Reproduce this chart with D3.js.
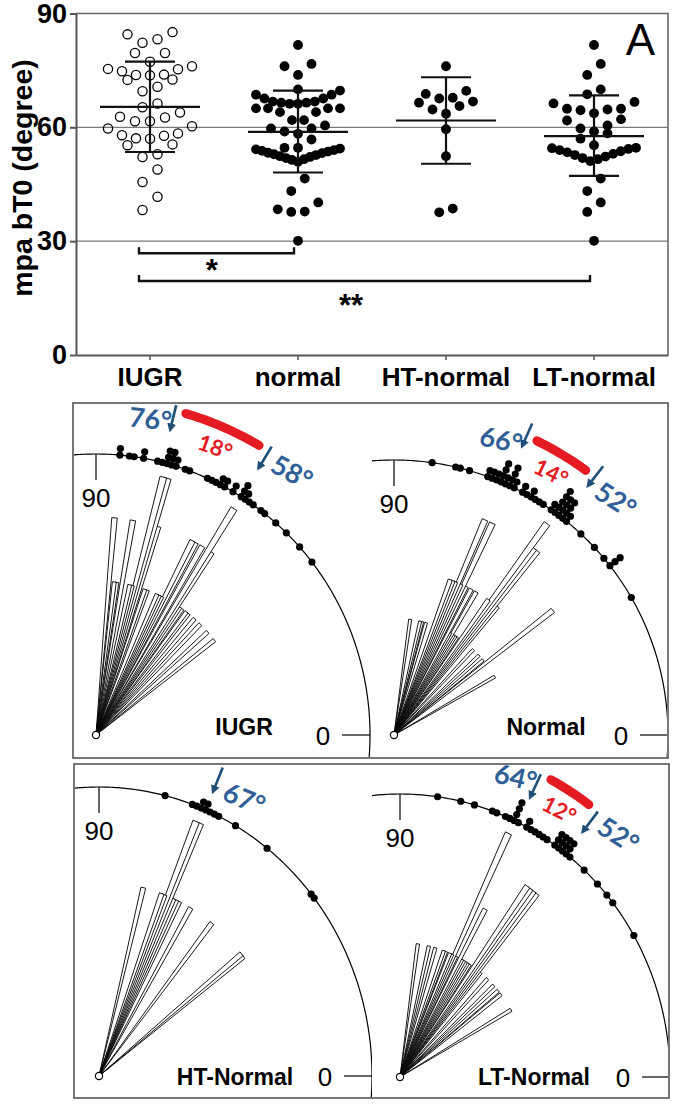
<!DOCTYPE html>
<html><head><meta charset="utf-8">
<script src="https://d3js.org/d3.v7.min.js"></script>
<style>html,body{margin:0;padding:0;background:#fff}svg{display:block}</style>
</head><body>
<script>
// ---------------- DATA ----------------
const groups = ["IUGR", "normal", "HT-normal", "LT-normal"];
const iugrValues = [85.1,84.5,83.2,82.3,79.6,79.6,77.3,76.1,74.8,75.4,75.3,73.8,73.7,73.9,72.6,72.5,70.7,69.5,66.3,65.3,63.9,62.6,62.8,61.6,61.6,60.3,59.7,57.9,57.1,57.0,57.8,58.4,55.3,55.5,52.2,52.9,48.9,45.6,41.7,38.2];
const normalValues = [81.7,76.7,76.1,73.8,70.0,69.7,68.6,68.6,67.6,67.6,66.8,66.5,66.5,66.8,66.2,66.2,65.0,65.0,65.0,65.0,64.0,64.0,61.9,61.9,60.5,59.7,59.7,58.9,58.3,56.8,54.6,54.4,54.0,53.6,53.2,52.7,52.2,51.6,50.9,51.4,51.9,52.4,52.9,53.3,53.8,54.2,54.6,46.5,43.2,40.2,37.8,37.7,38.4,30.1];
const htNormalValues = [76.1,69.6,67.8,68.8,66.8,67.6,65.6,66.5,64.7,63.6,59.5,52.4,37.6,38.6];
const ltNormalValues = [81.7,76.7,73.8,70.0,68.7,66.3,66.7,64.9,64.5,64.7,64.9,63.7,62.1,61.8,60.5,59.7,58.9,58.4,57.0,55.3,54.6,54.5,54.0,53.4,52.7,51.9,51.1,51.6,52.3,53.0,53.7,54.3,46.5,43.2,40.2,37.7,30.1];
const meanValues = [65.4, 58.8, 61.8, 57.7];
const sdUpper = [77.3, 69.7, 73.2, 68.4];
const sdLower = [53.5, 48.1, 50.4, 47.2];
const yTickValues = [0, 30, 60, 90];
const bracketFrom = ["IUGR", "IUGR"];
const bracketTo = ["normal", "LT-normal"];
const bracketLevel = [26.8, 19.5];
const bracketLabel = ["*", "**"];
const roseLabels = ["IUGR", "Normal", "HT-Normal", "LT-Normal"];
const arrowAngles = [[76, 58], [66, 52], [67], [64, 52]];
const panelLetters = ["A", "B", "C"];
const groupValues = [iugrValues, normalValues, htNormalValues, ltNormalValues];

// ---------------- SETUP ----------------
const W = 675, H = 1104;
const ARIAL = "'Liberation Sans', Arial, Helvetica, sans-serif";
const CAL = "Lato, 'Open Sans', 'Noto Sans', sans-serif";
const svg = d3.select("body").append("svg").attr("width", W).attr("height", H);
svg.append("rect").attr("width", W).attr("height", H).attr("fill", "#fff");

// ---------------- PANEL A ----------------
const A = {left: 76, right: 668, top: 13.5, bottom: 355};
const y = d3.scaleLinear().domain([0, 90]).range([A.bottom, A.top]);
const x = d3.scaleBand().domain(groups).range([A.left, A.right]).padding(0);
const xc = g => x(g) + x.bandwidth() / 2;
const gA = svg.append("g");

gA.selectAll("line.grid").data(yTickValues.filter(v => v > 0 && v < 90)).join("line")
  .attr("class", "grid")
  .attr("x1", A.left).attr("x2", A.right).attr("y1", d => y(d)).attr("y2", d => y(d))
  .attr("stroke", "#7a7a7a").attr("stroke-width", 1.3);
gA.append("path").attr("d", `M${A.left},${y(90)}H${A.right}V${A.bottom}`)
  .attr("fill", "none").attr("stroke", "#6a6a6a").attr("stroke-width", 1.6);

const gy = gA.append("g").attr("transform", `translate(${A.left},0)`)
  .call(d3.axisLeft(y).tickValues(yTickValues).tickSize(6).tickSizeOuter(0).tickPadding(3));
gy.select(".domain").attr("stroke", "#555").attr("stroke-width", 2);
gy.selectAll(".tick line").attr("stroke", "#555").attr("stroke-width", 2);
gy.selectAll(".tick text").attr("font-family", ARIAL).attr("font-weight", "bold")
  .attr("font-size", 27).attr("fill", "#000");

const gx = gA.append("g").attr("transform", `translate(0,${A.bottom})`)
  .call(d3.axisBottom(x).tickSize(5).tickSizeOuter(0).tickPadding(8));
gx.select(".domain").attr("stroke", "#555").attr("stroke-width", 2);
gx.selectAll(".tick line").attr("stroke", "#555").attr("stroke-width", 1.5);
gx.selectAll(".tick text").attr("font-family", ARIAL).attr("font-weight", "bold")
  .attr("font-size", 26).attr("fill", "#000");

gA.append("text").attr("transform", `translate(22,178) rotate(-90)`)
  .attr("text-anchor", "middle").attr("dominant-baseline", "central")
  .attr("font-family", ARIAL).attr("font-weight", "bold").attr("font-size", 28.5)
  .text("mpa bT0 (degree)");

// column-scatter layout: rows of similar values spread horizontally, lowest in centre
function scatterRows(vals, rowH, cap, maxW) {
  const pts = vals.map(v => ({v, py: y(v)})).sort((a, b) => a.v - b.v);
  const rows = [];
  pts.forEach(p => {
    const r = rows[rows.length - 1];
    if (r && r[0].py - p.py <= rowH) r.push(p); else rows.push([p]);
  });
  rows.forEach(r => {
    const n = r.length;
    const s = n > 1 ? Math.min(cap, maxW / (n - 1)) : 0;
    r.forEach((p, j) => {
      let slot;
      if (n % 2 === 1) slot = j === 0 ? 0 : (j % 2 === 1 ? -1 : 1) * Math.ceil(j / 2);
      else slot = (j % 2 === 0 ? -1 : 1) * (Math.floor(j / 2) + 0.5);
      p.dx = slot * s;
    });
  });
  return pts;
}

groups.forEach((g, i) => {
  const open = i === 0;
  const pts = scatterRows(groupValues[i], 13.5, open ? 15 : 13.5, 84);
  gA.append("g").selectAll("circle").data(pts).join("circle")
    .attr("cx", d => xc(g) + d.dx).attr("cy", d => d.py)
    .attr("r", open ? 4.6 : 4.9)
    .attr("fill", open ? "none" : "#000")
    .attr("stroke", "#000").attr("stroke-width", open ? 1.3 : 0);
  const eb = gA.append("g").attr("stroke", "#111").attr("stroke-width", 2.2).attr("fill", "none");
  eb.append("line").attr("x1", xc(g)).attr("x2", xc(g)).attr("y1", y(sdLower[i])).attr("y2", y(sdUpper[i]));
  eb.append("line").attr("x1", xc(g) - 50).attr("x2", xc(g) + 50).attr("y1", y(meanValues[i])).attr("y2", y(meanValues[i]));
  [sdLower[i], sdUpper[i]].forEach(v => eb.append("line").attr("x1", xc(g) - 25).attr("x2", xc(g) + 25).attr("y1", y(v)).attr("y2", y(v)));
});

bracketFrom.forEach((f, i) => {
  const x1 = xc(f) - 11, x2 = xc(bracketTo[i]) - 4, yl = y(bracketLevel[i]);
  gA.append("path").attr("d", `M${x1},${yl - 6}V${yl}H${x2}V${yl - 6}`)
    .attr("fill", "none").attr("stroke", "#111").attr("stroke-width", 2.4);
  gA.append("text").attr("x", x1 + (x2 - x1) * 0.47).attr("y", yl + (i === 0 ? 28 : 35))
    .attr("text-anchor", "middle").attr("font-family", ARIAL).attr("font-weight", "bold")
    .attr("font-size", 31).text(bracketLabel[i]);
});
gA.append("text").attr("x", 655).attr("y", 55).attr("text-anchor", "end")
  .attr("font-family", ARIAL).attr("font-size", 44).text(panelLetters[0]);

// ---------------- PANELS B & C ----------------
const boxes = [{x: 73, y: 403, w: 595, h: 355}, {x: 74, y: 764, w: 595, h: 334}];
boxes.forEach((b, i) => {
  svg.append("rect").attr("x", b.x).attr("y", b.y).attr("width", b.w).attr("height", b.h)
    .attr("fill", "none").attr("stroke", "#555").attr("stroke-width", 1.6);
  svg.append("text").attr("x", 654).attr("y", i === 0 ? 448 : 805).attr("text-anchor", "end")
    .attr("font-family", ARIAL).attr("font-size", 42).text(panelLetters[i + 1]);
});

const defs = svg.append("defs");
defs.append("marker").attr("id", "ah").attr("viewBox", "0 0 10 10").attr("refX", 1).attr("refY", 5)
  .attr("markerWidth", 9).attr("markerHeight", 9).attr("markerUnits", "userSpaceOnUse").attr("orient", "auto")
  .append("path").attr("d", "M0,0L10,5L0,10Z").attr("fill", "#1f4e79");

const roseLayout = [
  {cx: 96, cy: 735, rx: 274, ry: 281, clip: [74, 404, 298, 353], tip: 1.11, lab: [148, 0]},
  {cx: 394, cy: 735, rx: 274, ry: 275, clip: [372, 404, 295, 353], tip: 1.14, lab: [152, 0]},
  {cx: 99, cy: 1076, rx: 273, ry: 289, clip: [75, 765, 297, 332], tip: 1.06, lab: [136, 9]},
  {cx: 400, cy: 1077, rx: 270, ry: 283, clip: [372, 765, 296, 332], tip: 1.09, lab: [134, 8]}
];
const ang = d3.scaleLinear().domain([0, 180]).range([0, Math.PI]);
const line = d3.line();

roseLabels.forEach((lab, i) => {
  const L = roseLayout[i];
  const vals = groupValues[i];
  const pt = (a, r) => [L.cx + L.rx * r * Math.cos(ang(a)), L.cy - L.ry * r * Math.sin(ang(a))];
  const counts = d3.rollups(vals, v => v.length, d => Math.round(d)).sort((a, b) => a[0] - b[0]);
  const len = d3.scaleSqrt().domain([0, d3.max(counts, d => d[1])]).range([0, 0.95]);

  defs.append("clipPath").attr("id", "cp" + i).append("rect")
    .attr("x", L.clip[0]).attr("y", L.clip[1]).attr("width", L.clip[2]).attr("height", L.clip[3]);
  const g = svg.append("g").attr("clip-path", `url(#cp${i})`);
  g.append("rect").attr("x", L.clip[0]).attr("y", L.clip[1]).attr("width", L.clip[2]).attr("height", L.clip[3]).attr("fill", "#fff");

  // rays
  g.append("g").selectAll("path").data(counts).join("path")
    .attr("d", d => line([[L.cx, L.cy], pt(d[0] - 0.75, len(d[1])), pt(d[0] + 0.75, len(d[1]))]) + "Z")
    .attr("fill", "#fff").attr("stroke", "#000").attr("stroke-width", 0.9).attr("stroke-linejoin", "miter");

  // circle arc
  g.append("path").attr("d", line(d3.range(-6, 96.01, 0.5).map(a => pt(a, 1))))
    .attr("fill", "none").attr("stroke", "#000").attr("stroke-width", 1.2);
  const top = pt(90, 1), right = pt(0, 1);
  g.append("line").attr("x1", top[0]).attr("x2", top[0]).attr("y1", top[1]).attr("y2", top[1] + 26)
    .attr("stroke", "#000").attr("stroke-width", 1.2);
  g.append("line").attr("x1", right[0] - 28).attr("x2", right[0]).attr("y1", right[1]).attr("y2", right[1])
    .attr("stroke", "#000").attr("stroke-width", 1.2);

  // stacked dots on the circle
  const dots = [];
  counts.forEach(([a, n]) => { for (let j = 0; j < n; j++) dots.push(pt(a, 1 + j * 6.5 / L.ry)); });
  g.append("g").selectAll("circle").data(dots).join("circle")
    .attr("cx", d => d[0]).attr("cy", d => d[1]).attr("r", 3.6).attr("fill", "#000");

  g.append("circle").attr("cx", L.cx).attr("cy", L.cy).attr("r", 3.6)
    .attr("fill", "#fff").attr("stroke", "#000").attr("stroke-width", 1.2);

  // axis labels
  g.append("text").attr("x", top[0]).attr("y", top[1] + 53).attr("text-anchor", "middle")
    .attr("font-family", ARIAL).attr("font-size", 26).text("90");
  g.append("text").attr("x", right[0] - 47).attr("y", L.cy + 10).attr("text-anchor", "middle")
    .attr("font-family", ARIAL).attr("font-size", 26).text("0");
  g.append("text").attr("x", L.cx + L.lab[0]).attr("y", L.cy + L.lab[1]).attr("text-anchor", "middle")
    .attr("font-family", ARIAL).attr("font-weight", "bold").attr("font-size", 23).text(lab);

  // annotations
  const arr = arrowAngles[i];
  arr.forEach((a, k) => {
    const p0 = pt(a, L.tip + 0.1), p1 = pt(a, L.tip + 8 / L.ry);
    g.append("line").attr("x1", p0[0]).attr("y1", p0[1]).attr("x2", p1[0]).attr("y2", p1[1])
      .attr("stroke", "#1f4e79").attr("stroke-width", 2.6).attr("marker-end", "url(#ah)");
    const leftSide = arr.length === 2 && k === 0;
    const la = leftSide ? a + 4 : a - (arr.length === 1 ? 6 : 5.4);
    const lr = leftSide ? 1.145 : (arr.length === 1 ? 1.10 : 1.18);
    const lp = pt(la, lr);
    g.append("text").attr("transform", `translate(${lp[0]},${lp[1]}) rotate(${(90 - la) * (leftSide ? 0.6 : 0.75)})`)
      .attr("text-anchor", "middle").attr("dominant-baseline", "central")
      .attr("font-family", CAL).attr("font-weight", "bold").attr("font-size", 27)
      .attr("fill", "#2f5f96").text(a + "°");
  });
  if (arr.length === 2) {
    const [a0, a1] = arr;
    g.append("path").attr("d", line(d3.range(a1 + 2, a0 - 2 + 0.01, 0.5).map(a => pt(a, 1.19))))
      .attr("fill", "none").attr("stroke", "#e51b24").attr("stroke-width", 9).attr("stroke-linecap", "round");
    const mid = (a0 + a1) / 2, mp = pt(mid, 1.115);
    g.append("text").attr("transform", `translate(${mp[0]},${mp[1]}) rotate(${(90 - mid) * 0.85})`)
      .attr("text-anchor", "middle").attr("dominant-baseline", "central")
      .attr("font-family", CAL).attr("font-weight", "bold").attr("font-size", 22)
      .attr("fill", "#e51b24").text((a0 - a1) + "°");
  }
});
</script>
</body></html>
